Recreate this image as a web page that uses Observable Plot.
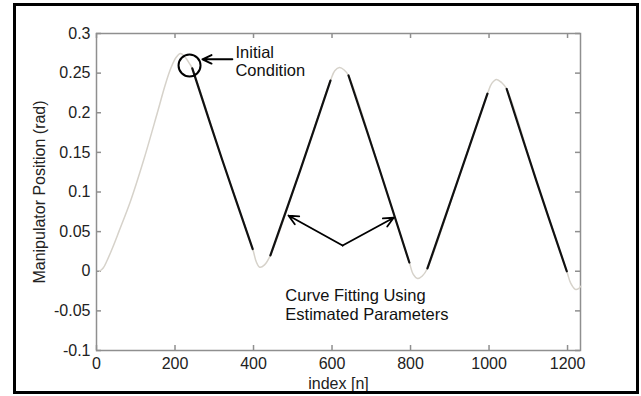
<!DOCTYPE html>
<html>
<head>
<meta charset="utf-8">
<script src="https://cdn.jsdelivr.net/npm/d3@7"></script>
<script src="https://cdn.jsdelivr.net/npm/@observablehq/plot@0.6"></script>
<style>
  html, body { margin: 0; padding: 0; background: #fff; }
  #wrap { position: relative; width: 641px; height: 396px; }
  #border { position: absolute; left: 13px; top: 3px; width: 626px; height: 391px; border: 3px solid #000; box-sizing: border-box; pointer-events: none; }
  #chart { position: absolute; left: 0; top: 0; }
</style>
</head>
<body>
<div id="wrap"><div id="chart"></div><div id="border"></div></div>
<script>
// Measured signal (light gray)
const measIndex = [8,17,27,42,57,87,120,155,175,190,203,214,226,237,244,320,398,407,416,428,443,520,596,607,619,631,642,720,797,807,818,830,843,920,996,1007,1019,1032,1045,1120,1198,1208,1220,1228,1233];
const measValue = [0.0,0.004,0.0136,0.031,0.05,0.089,0.14,0.2,0.235,0.257,0.27,0.2747,0.27,0.262,0.256,0.141,0.028,0.012,0.005,0.008,0.02,0.129,0.2406,0.253,0.257,0.254,0.247,0.13,0.011,-0.004,-0.0092,-0.006,0.0035,0.114,0.224,0.237,0.242,0.238,0.23,0.115,0.0,-0.015,-0.0229,-0.022,-0.019];

// Curve fitting segments (black)
const fitSegment = [1,1,1, 2,2,2, 3,3,3, 4,4,4, 5,5,5];
const fitIndex   = [244,320,398, 443,520,596, 642,720,797, 843,920,996, 1045,1120,1198];
const fitValue   = [0.256,0.141,0.028, 0.02,0.129,0.2406, 0.247,0.13,0.011, 0.0035,0.114,0.224, 0.23,0.115,0.0];

// Ticks
const xTicks = [0,200,400,600,800,1000,1200];
const xTickLabels = ["0","200","400","600","800","1000","1200"];
const yTicks = [-0.1,-0.05,0,0.05,0.1,0.15,0.2,0.25,0.3];
const yTickLabels = ["-0.1","-0.05","0","0.05","0.1","0.15","0.2","0.25","0.3"];

// Annotations
const initialCircle = [{x: 237, y: 0.2596}];
const initialArrow = [{x1: 346, y1: 0.2674, x2: 270, y2: 0.2674}];
const initialText = [{x: 354, y: 0.2849, label: "Initial\nCondition"}];
const fitArrows = [{x1: 627, y1: 0.0325, x2: 489, y2: 0.0703}, {x1: 627, y1: 0.0325, x2: 757, y2: 0.0675}];
const fitText = [{x: 481, y: -0.0218, label: "Curve Fitting Using\nEstimated Parameters"}];

const meas = measIndex.map((x, i) => ({x, y: measValue[i]}));
const fit = fitIndex.map((x, i) => ({x, y: fitValue[i], seg: fitSegment[i]}));

const W = 641, H = 396, mL = 96, mR = 61, mT = 33, mB = 46;
const fw = W - mL - mR, fh = H - mT - mB;
const axisColor = "#8f8f8f";

const chart = Plot.plot({
  width: W, height: H,
  marginLeft: mL, marginRight: mR, marginTop: mT, marginBottom: mB,
  style: {fontFamily: "'Liberation Sans', Arial, sans-serif", fontSize: "16px", color: "#222", background: "transparent"},
  x: {domain: [0, 1233]},
  y: {domain: [-0.1, 0.3]},
  marks: [
    // inward ticks on all four sides
    Plot.ruleX(xTicks, {x: d => d, stroke: axisColor, strokeWidth: 1.5, insetTop: fh - 5}),
    Plot.ruleX(xTicks, {x: d => d, stroke: axisColor, strokeWidth: 1.5, insetBottom: fh - 5}),
    Plot.ruleY(yTicks, {y: d => d, stroke: axisColor, strokeWidth: 1.5, insetRight: fw - 5}),
    Plot.ruleY(yTicks, {y: d => d, stroke: axisColor, strokeWidth: 1.5, insetLeft: fw - 5}),
    Plot.axisX({ticks: xTicks, tickSize: 0, tickPadding: 7, tickFormat: (d, i) => xTickLabels[i],
      label: "index [n]", labelAnchor: "center", labelOffset: 38, labelArrow: "none"}),
    Plot.axisY({ticks: yTicks, tickSize: 0, tickPadding: 6, tickFormat: (d, i) => yTickLabels[i],
      label: "Manipulator Position (rad)", labelAnchor: "center", labelOffset: 63, labelArrow: "none"}),
    Plot.frame({stroke: axisColor, strokeWidth: 1.5}),
    Plot.line(meas, {x: "x", y: "y", stroke: "#d6d2ca", strokeWidth: 1.5, curve: "catmull-rom"}),
    Plot.line(fit, {x: "x", y: "y", z: "seg", stroke: "#111", strokeWidth: 2.2, curve: "catmull-rom"}),
    Plot.dot(initialCircle, {x: "x", y: "y", r: 11, stroke: "#000", strokeWidth: 2, fill: "none"}),
    Plot.arrow(initialArrow, {x1: "x1", y1: "y1", x2: "x2", y2: "y2", stroke: "#000", strokeWidth: 2, headLength: 9, headAngle: 50}),
    Plot.arrow(fitArrows, {x1: "x1", y1: "y1", x2: "x2", y2: "y2", stroke: "#000", strokeWidth: 1.8, headLength: 9, headAngle: 50}),
    Plot.text(initialText, {x: "x", y: "y", text: "label", textAnchor: "start", lineAnchor: "top", lineHeight: 1.1, fontSize: 16.5, fill: "#111"}),
    Plot.text(fitText, {x: "x", y: "y", text: "label", textAnchor: "start", lineAnchor: "top", lineHeight: 1.1, fontSize: 16.5, fill: "#111"})
  ]
});
document.getElementById("chart").appendChild(chart);
</script>
</body>
</html>
